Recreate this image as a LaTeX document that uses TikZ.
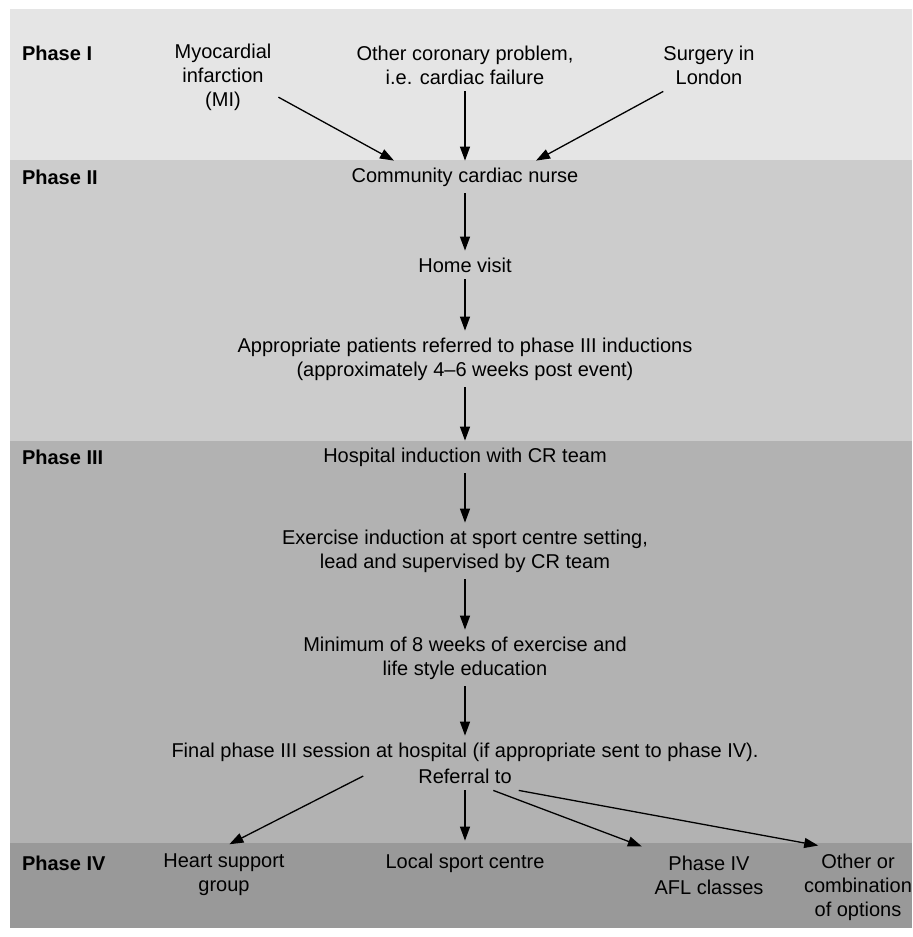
\documentclass[tikz,border=0pt]{standalone}
\usepackage{fontspec}
\setmainfont{Liberation Sans}
\usetikzlibrary{arrows.meta, calc}
\usepackage{xcolor}

\definecolor{phaseone}{gray}{0.9}
\definecolor{phasetwo}{gray}{0.8}
\definecolor{phasethree}{gray}{0.7}
\definecolor{phasefour}{gray}{0.6}

\begin{document}
\begin{tikzpicture}[x=0.5pt, y=-0.5pt,
    txt/.style={align=center, font=\fontsize{10}{12}\selectfont},
    phase/.style={anchor=west, font=\fontsize{10}{12}\selectfont\bfseries},
    arr/.style={-{Triangle[length=7pt, width=5pt]}, line width=0.65pt}]

      \useasboundingbox (0, 0) rectangle (912, 937);

      % the four bands
      \fill[phaseone] (10, 9) rectangle (912, 160);
      \fill[phasetwo] (10, 160) rectangle (912, 441);
      \fill[phasethree] (10, 441) rectangle (912, 843);
      \fill[phasefour] (10, 843) rectangle (912, 928);

      \node[phase] (p1) at (15, 53) {Phase I};
      \node[phase] (p2) at (15, 177) {Phase II};
      \node[phase] (p3) at (15, 457) {Phase III};
      \node[phase] (p4) at (15, 863) {Phase IV};

      \node[txt] (mi) at (223, 77) {Myocardial\\infarction\\(MI)};
      \node[txt] (other) at (465, 65) {Other coronary problem,\\i.e. cardiac failure};
      \node[txt] (surgery) at (709, 65) {Surgery in\\London};

      \node[txt] (nurse) at (465, 177) {Community cardiac nurse};
      \node[txt] (visit) at (465, 265) {Home visit};
      \node[txt] (refer) at (465, 359) {Appropriate patients referred to phase III inductions\\(approximately 4--6 weeks post event)};

      \node[txt] (hospital) at (465, 457) {Hospital induction with CR team};
      \node[txt] (exercise) at (465, 551) {Exercise induction at sport centre setting,\\lead and supervised by CR team};
      \node[txt] (minimum) at (465, 658) {Minimum of 8 weeks of exercise and\\life style education};
      \node[txt] (final) at (465, 752) {Final phase III session at hospital (if appropriate sent to phase IV).};
      \node[txt] (referral) at (465, 776) {Referral to};

      \node[txt] (heart) at (224, 875) {Heart support\\group};
      \node[txt] (local) at (465, 863) {Local sport centre};
      \node[txt] (afl) at (709, 875) {Phase IV\\AFL classes};
      \node[txt] (options) at (858, 887) {Other or\\combination\\of options};

      \draw[arr] (mi.-20) -- (nurse.167);
      \draw[arr] (other) -- (nurse);
      \draw[arr] (surgery.210) -- (nurse.13);
      \draw[arr] (nurse) -- (visit);
      \draw[arr] (visit) -- (refer);
      \draw[arr] (refer) -- (hospital);
      \draw[arr] (hospital) -- (exercise);
      \draw[arr] (exercise) -- (minimum);
      \draw[arr] (minimum) -- (final);

      \draw[arr, shorten >=3pt] ($(referral.west)+(-48, 0)$) -- (heart.north);
      \draw[arr, shorten >=3pt] (referral) -- (local);
      \draw[arr, shorten >=3pt] (referral.-27) -- (afl.north west);
      \draw[arr, shorten >=3pt] (referral.south east) -- (options.130);

\end{tikzpicture}
\end{document}
